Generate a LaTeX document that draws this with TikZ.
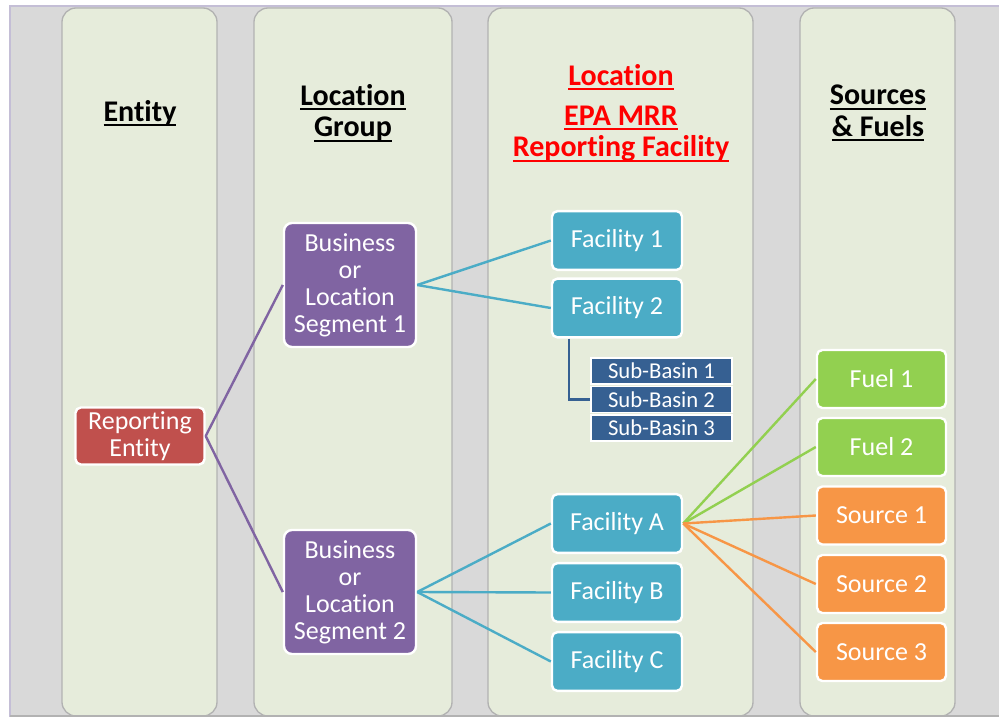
\documentclass[tikz,border=0pt]{standalone}
\usepackage{fontspec}
\setmainfont{Carlito}[Ligatures={NoCommon}]

\definecolor{bggray}{RGB}{217,217,217}
\definecolor{colfill}{RGB}{230,236,219}
\definecolor{coledge}{RGB}{178,178,178}
\definecolor{framecol}{RGB}{196,190,214}
\definecolor{entred}{RGB}{192,80,77}
\definecolor{segpurple}{RGB}{128,100,162}
\definecolor{facteal}{RGB}{75,172,198}
\definecolor{basinblue}{RGB}{54,96,146}
\definecolor{fuelgreen}{RGB}{146,208,80}
\definecolor{srcorange}{RGB}{247,150,70}
\definecolor{hdred}{RGB}{255,0,0}

\newcommand{\hdul}[1]{\setbox0=\hbox{#1}\leavevmode\rlap{\rule[-3.5pt]{\wd0}{1.4pt}}\box0}

\tikzset{every picture/.style={line width=0.75pt}}
\tikzset{
  colshape/.style={fill=colfill, draw=coledge, line width=1pt, rounded corners=10.5pt},
  hdtext/.style={inner sep=0.75pt, align=center, font=\fontsize{22.5}{23.5}\selectfont\bfseries},
  boxbase/.style={draw=white, line width=1.8pt, text=white, inner sep=0pt, align=center, font=\fontsize{19.5}{20.2}\selectfont},
  entbox/.style={boxbase, fill=entred, rounded corners=4pt, minimum width=96.75pt, minimum height=42.75pt},
  segbox/.style={boxbase, fill=segpurple, rounded corners=6pt, minimum width=99pt, minimum height=93pt},
  facbox/.style={boxbase, fill=facteal, rounded corners=4pt, minimum width=97.5pt, minimum height=44pt},
  basinbox/.style={boxbase, fill=basinblue, line width=1.2pt, minimum width=105.75pt, minimum height=19.5pt, font=\fontsize{17}{18}\selectfont},
  fuelbox/.style={boxbase, fill=fuelgreen, rounded corners=4pt, minimum width=96.75pt, minimum height=43.5pt},
  srcbox/.style={boxbase, fill=srcorange, rounded corners=4pt, minimum width=96.75pt, minimum height=43.5pt},
  link/.style={line width=1.8pt}
}

\begin{document}
\begin{tikzpicture}[x=0.75pt,y=0.75pt,yscale=-1,xscale=1]
\useasboundingbox (0,0) rectangle (999,717);

%Shape: Rectangle [background]
\fill[white] (0,0) rectangle (999,717);
\fill[bggray] (10,6) rectangle (999,717);
\draw[framecol, line width=1.5pt] (10,717) -- (10,6) -- (999,6);

%Shape: Columns
\begin{scope}
\clip (10,6) rectangle (999,716);
\draw[colshape] (62,8) rectangle (217,716);
\draw[colshape] (254,8) rectangle (452,716);
\draw[colshape] (488,8) rectangle (753,716);
\draw[colshape] (800,8) rectangle (955,716);
\end{scope}
\draw[coledge, line width=1pt] (10,716) -- (999,716);

% Text Node
\node[hdtext] (hdent) at (140,113) {\hdul{Entity}};
% Text Node
\node[hdtext] (hdgrp) at (353,113) {\hdul{Location}\\\hdul{Group}};
% Text Node
\node[hdtext, text=hdred] (hdloc) at (621,77) {\hdul{Location}};
% Text Node
\node[hdtext, text=hdred] (hdepa) at (621,134) {\hdul{EPA MRR}\\\hdul{Reporting Facility}};
% Text Node
\node[hdtext] (hdsrc) at (878,113) {\hdul{Sources}\\\hdul{\& Fuels}};

%Shape: Rectangle [entity]
\node[entbox] (rent) at (140,436) {Reporting\\Entity};

%Shape: Rectangle [segments]
\node[segbox] (seg1) at (350,285) {Business\\or\\Location\\Segment 1};
\node[segbox] (seg2) at (350,592) {Business\\or\\Location\\Segment 2};

%Shape: Rectangle [facilities]
\node[facbox] (fac1) at (617,240.5) {Facility 1};
\node[facbox] (fac2) at (617,308) {Facility 2};
\node[facbox] (facA) at (617,523.5) {Facility A};
\node[facbox] (facB) at (617,592.5) {Facility B};
\node[facbox] (facC) at (617,661.5) {Facility C};

%Shape: Rectangle [sub-basins]
\node[basinbox] (sb1) at (661.5,371) {Sub-Basin 1};
\node[basinbox] (sb2) at (661.5,399.5) {Sub-Basin 2};
\node[basinbox] (sb3) at (661.5,428) {Sub-Basin 3};

%Shape: Rectangle [fuels and sources]
\node[fuelbox] (fuel1) at (881.5,379) {Fuel 1};
\node[fuelbox] (fuel2) at (881.5,447) {Fuel 2};
\node[srcbox] (src1) at (881.5,515.5) {Source 1};
\node[srcbox] (src2) at (881.5,584) {Source 2};
\node[srcbox] (src3) at (881.5,652) {Source 3};

%Straight Lines [entity to segments]
\draw[link, segpurple] (rent.east) -- (seg1.west);
\draw[link, segpurple] (rent.east) -- (seg2.west);
%Straight Lines [segments to facilities]
\draw[link, facteal] (seg1.east) -- (fac1.west);
\draw[link, facteal] (seg1.east) -- (fac2.west);
\draw[link, facteal] (seg2.east) -- (facA.west);
\draw[link, facteal] (seg2.east) -- (facB.west);
\draw[link, facteal] (seg2.east) -- (facC.west);
%Straight Lines [facility to sub-basin]
\draw[link, basinblue] ([xshift=13.5pt]fac2.south west) |- (sb2.west);
%Straight Lines [facility to fuels and sources]
\draw[link, fuelgreen] (facA.east) -- (fuel1.west);
\draw[link, fuelgreen] (facA.east) -- (fuel2.west);
\draw[link, srcorange] (facA.east) -- (src1.west);
\draw[link, srcorange] (facA.east) -- (src2.west);
\draw[link, srcorange] (facA.east) -- (src3.west);

\end{tikzpicture}
\end{document}
